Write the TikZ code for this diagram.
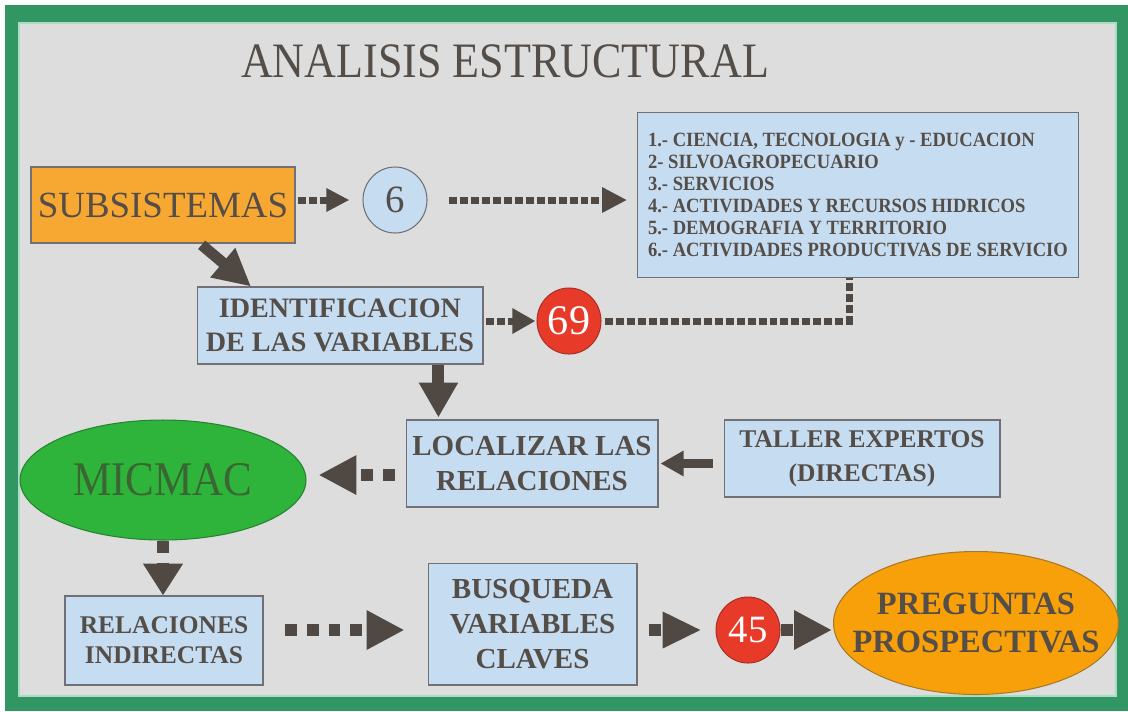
\documentclass[tikz,border=0pt]{standalone}
\usepackage{fontspec}
\setmainfont{Liberation Serif}
\newfontfamily\narrowfont[FakeStretch=0.89]{Liberation Serif}
\newfontfamily\listfont[FakeStretch=0.92]{Liberation Serif}
\usetikzlibrary{calc, positioning}
\usetikzlibrary{arrows.meta}
\usetikzlibrary{shapes.geometric}

\definecolor{framegreen}{RGB}{50,150,100}
\definecolor{framemint}{RGB}{170,220,195}
\definecolor{bggray}{RGB}{221,221,221}
\definecolor{txtgray}{RGB}{84,77,72}
\definecolor{arrowbrown}{RGB}{80,72,66}
\definecolor{boxblue}{RGB}{198,220,240}
\definecolor{boxline}{RGB}{112,112,118}
\definecolor{suborange}{RGB}{246,168,50}
\definecolor{pregorange}{RGB}{248,160,10}
\definecolor{pregline}{RGB}{170,120,40}
\definecolor{micgreen}{RGB}{46,180,58}
\definecolor{micline}{RGB}{40,130,50}
\definecolor{micdark}{RGB}{58,102,52}
\definecolor{numred}{RGB}{232,58,40}
\definecolor{numline}{RGB}{170,50,40}

\tikzset{
  bluebox/.style={draw=boxline, line width=0.6pt, fill=boxblue, text=txtgray,
    align=center, inner sep=0pt},
  numcircle/.style={ellipse, line width=0.6pt, inner sep=0pt,
    minimum width=1.28cm, minimum height=1.32cm},
  smalldots/.style={arrowbrown, line width=0.14cm, dash pattern=on 0.16cm off 0.06cm},
  bigdots/.style={arrowbrown, line width=0.24cm, dash pattern=on 0.24cm off 0.2cm},
  bigtip/.style={-{Triangle[length=0.76cm, width=0.74cm]}},
}

\begin{document}
\begin{tikzpicture}[x=0.02cm, y=-0.02cm]
\useasboundingbox (0,0) rectangle (1128,711);

% frame
\fill[white] (0,0) rectangle (1128,711);
\fill[framegreen] (5,5) rectangle (1128,711);
\fill[bggray] (19,23) rectangle (1116,696);
\draw[framemint, line width=0.6pt] (19,23) rectangle (1116,696);

\node[font=\narrowfont\fontsize{28.2}{30}\selectfont, text=txtgray] (title)
    at (505,61) {ANALISIS ESTRUCTURAL};

% boxes
\node[draw=boxline, line width=0.6pt, fill=suborange, text=txtgray,
    minimum width=5.28cm, minimum height=1.52cm,
    font=\fontsize{21}{24}\selectfont] (sub) at (163,205) {SUBSISTEMAS};
\node[numcircle, draw=boxline, fill=boxblue, text=txtgray,
    font=\fontsize{22}{24}\selectfont] (six) at (395,200) {6};
\node[bluebox, anchor=north west, align=left,
    minimum width=8.82cm, minimum height=3.3cm,
    font=\listfont\bfseries\fontsize{11.5}{12.5}\selectfont] (list) at (637,112)
    {1.- CIENCIA, TECNOLOGIA y - EDUCACION\\
     2- SILVOAGROPECUARIO\\
     3.- SERVICIOS\\
     4.- ACTIVIDADES Y RECURSOS HIDRICOS\\
     5.- DEMOGRAFIA Y TERRITORIO\\
     6.- ACTIVIDADES PRODUCTIVAS DE SERVICIO};

\node[bluebox, minimum width=5.72cm, minimum height=1.54cm,
    font=\bfseries\fontsize{16}{19.8}\selectfont] (ident) at (340,325.5)
    {IDENTIFICACION\\DE LAS VARIABLES};
\node[numcircle, draw=numline, fill=numred, text=white,
    font=\fontsize{24}{26}\selectfont] (c69) at (569,321) {69};

\node[bluebox, minimum width=5.04cm, minimum height=1.74cm,
    font=\bfseries\fontsize{16.5}{20.4}\selectfont] (loc) at (532,463.5)
    {LOCALIZAR LAS\\RELACIONES};
\node[bluebox, minimum width=5.52cm, minimum height=1.54cm,
    font=\bfseries\fontsize{14.5}{19.3}\selectfont] (taller) at (862,458.5)
    {TALLER EXPERTOS\\(DIRECTAS)};
\node[ellipse, draw=micline, line width=0.6pt, fill=micgreen, text=micdark,
    minimum width=5.72cm, minimum height=2.4cm, inner sep=0pt,
    font=\narrowfont\fontsize{27.5}{30}\selectfont] (micmac) at (163,480) {MICMAC};

\node[bluebox, minimum width=3.96cm, minimum height=1.78cm,
    font=\bfseries\fontsize{14.5}{17}\selectfont] (relind) at (164,640.5)
    {RELACIONES\\INDIRECTAS};
\node[bluebox, minimum width=4.18cm, minimum height=2.44cm,
    font=\bfseries\fontsize{16.5}{19.8}\selectfont] (busq) at (532.5,624)
    {BUSQUEDA\\VARIABLES\\CLAVES};
\node[numcircle, draw=numline, fill=numred, text=white,
    font=\fontsize{22}{24}\selectfont] (c45) at (748,630) {45};
\node[ellipse, draw=pregline, line width=0.6pt, fill=pregorange,
    minimum width=5.7cm, minimum height=2.86cm] (preg) at (976,623) {};
\node[text=txtgray, align=center,
    font=\bfseries\fontsize{18.5}{21.5}\selectfont] (pregtxt) at (preg)
    {PREGUNTAS\\PROSPECTIVAS};

% connectors
\draw[smalldots, -{Triangle[length=0.46cm, width=0.44cm]},
    shorten <=0.04cm, shorten >=0.26cm] (six -| sub.east) -- (six.west);
\draw[smalldots, -{Triangle[length=0.5cm, width=0.48cm]},
    shorten <=0.42cm, shorten >=0.2cm] (six.east) -- (six -| list.west);

\coordinate (subfoot) at ($(sub.south west)!0.64!(sub.south east)$);
\coordinate (identtop) at ($(ident.north west)!0.19!(ident.north east)$);
\draw[arrowbrown, line width=0.22cm, -{Triangle[length=0.74cm, width=0.72cm]},
    shorten <=0.04cm] (subfoot) -- (identtop);

\draw[smalldots, -{Triangle[length=0.46cm, width=0.48cm]},
    shorten <=0.04cm, shorten >=0.02cm] (c69 -| ident.east) -- (c69.west);
\coordinate (listfoot) at ($(list.south west)!0.48!(list.south east)$);
\draw[smalldots, shorten <=0.06cm] (c69.east) -- (c69.east -| listfoot) -- (listfoot);

\coordinate (identfoot) at ($(ident.south west)!0.843!(ident.south east)$);
\draw[arrowbrown, line width=0.24cm, -{Triangle[length=0.7cm, width=0.74cm]},
    shorten >=0.04cm] (identfoot) -- (identfoot |- loc.north);
\draw[arrowbrown, line width=0.18cm, -{Triangle[length=0.46cm, width=0.48cm]},
    shorten <=0.22cm, shorten >=0.04cm] (loc -| taller.west) -- (loc.east);

\coordinate (locleft) at ($(loc.west)+(0,11.5)$);
\draw[bigdots, bigtip, shorten <=0.22cm, shorten >=0.24cm]
    (locleft) -- (locleft -| micmac.east);
\draw[bigdots, -{Triangle[length=0.64cm, width=0.76cm]}]
    (micmac.south) -- (micmac.south |- relind.north);

\draw[bigdots, bigtip, shorten <=0.42cm, shorten >=0.46cm]
    (c45 -| relind.east) -- (c45 -| busq.west);
\draw[bigdots, -{Triangle[length=0.78cm, width=0.68cm]},
    shorten <=0.22cm, shorten >=0.28cm] (c45 -| busq.east) -- (c45.west);
\draw[bigdots, bigtip, shorten >=0.02cm] (c45.east) -- (c45 -| preg.west);
\end{tikzpicture}
\end{document}
